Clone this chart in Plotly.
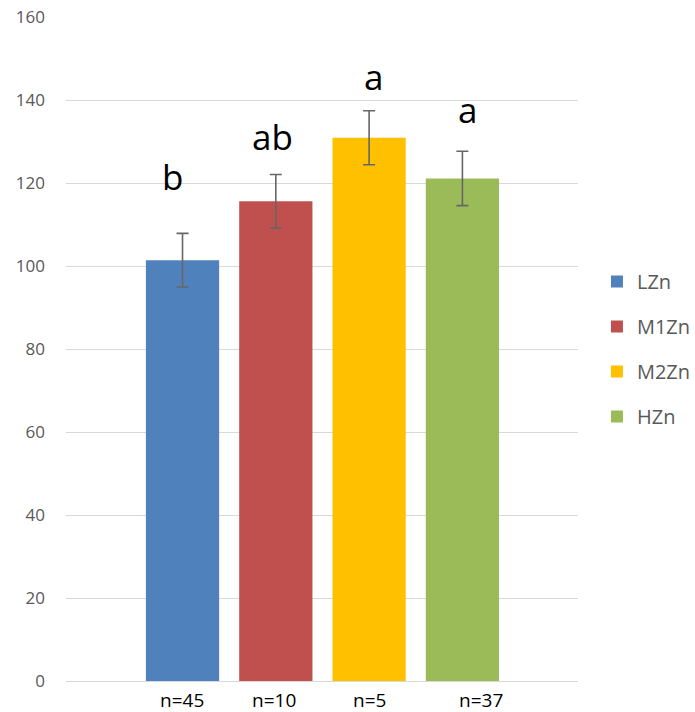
import plotly.graph_objects as go

# Zinc group bar chart with standard-error bars and significance letters
categories = ["LZn", "M1Zn", "M2Zn", "HZn"]
means = [101.4, 115.6, 130.9, 121.1]
errors = [6.45, 6.45, 6.5, 6.55]
sig_letters = ["b", "ab", "a", "a"]
n_labels = ["n=45", "n=10", "n=5", "n=37"]
colors = ["#4F81BD", "#C0504D", "#FFC000", "#9BBB59"]
y_ticks = [0, 20, 40, 60, 80, 100, 120, 140, 160]

FONT = "Open Sans"
GREY = "#595959"

fig = go.Figure()
for cat, m, e, c in zip(categories, means, errors, colors):
    fig.add_trace(go.Bar(
        x=[cat], y=[m], name=cat, legendgroup=cat,
        marker=dict(color=c, line=dict(width=0)),
        width=0.785,
        error_y=dict(type="data", array=[e], visible=True,
                     color="#666666", thickness=1.6, width=6),
    ))

# letter placement tweaks (pixels) relative to the top of each error bar
letter_dx = [-10, -3, 4, 5]
letter_gap = [40, 21, 18, 25]
for cat, m, e, lt, dx, gap in zip(categories, means, errors, sig_letters, letter_dx, letter_gap):
    fig.add_annotation(
        x=cat, y=m + e, xref="x", yref="y", text=lt, showarrow=False,
        xanchor="center", yanchor="bottom", xshift=dx, yshift=gap - 9,
        font=dict(family=FONT, size=35, color="black"),
    )

n_dx = [-1, -2, 0, 19]
for cat, lab, dx in zip(categories, n_labels, n_dx):
    fig.add_annotation(
        x=cat, y=0, xref="x", yref="paper", text=lab, showarrow=False,
        xanchor="center", yanchor="middle", xshift=dx, yshift=-19,
        font=dict(family=FONT, size=19, color="black"),
    )

fig.update_layout(
    width=695, height=712,
    margin=dict(l=66, r=117, t=17, b=31, autoexpand=False),
    paper_bgcolor="white", plot_bgcolor="white",
    barmode="overlay",
    showlegend=True,
    legend=dict(
        x=1.037, y=0.5, xanchor="left", yanchor="middle",
        traceorder="grouped", tracegroupgap=16,
        font=dict(family=FONT, size=20, color=GREY),
        bgcolor="rgba(0,0,0,0)",
    ),
    xaxis=dict(
        type="category", categoryorder="array", categoryarray=categories,
        range=[-1.249, 4.239], showticklabels=False, showgrid=False,
        showline=False, zeroline=False, ticks="", automargin=False,
    ),
    yaxis=dict(
        range=[0, 160], tickvals=y_ticks, ticktext=[str(v) for v in y_ticks],
        showgrid=True, gridcolor="#D9D9D9", gridwidth=1,
        zeroline=True, zerolinecolor="#D9D9D9", zerolinewidth=1,
        showline=False, ticks="", ticklabelstandoff=20, automargin=False,
        tickfont=dict(family=FONT, size=17, color=GREY),
    ),
)

fig.write_html("out.html")
